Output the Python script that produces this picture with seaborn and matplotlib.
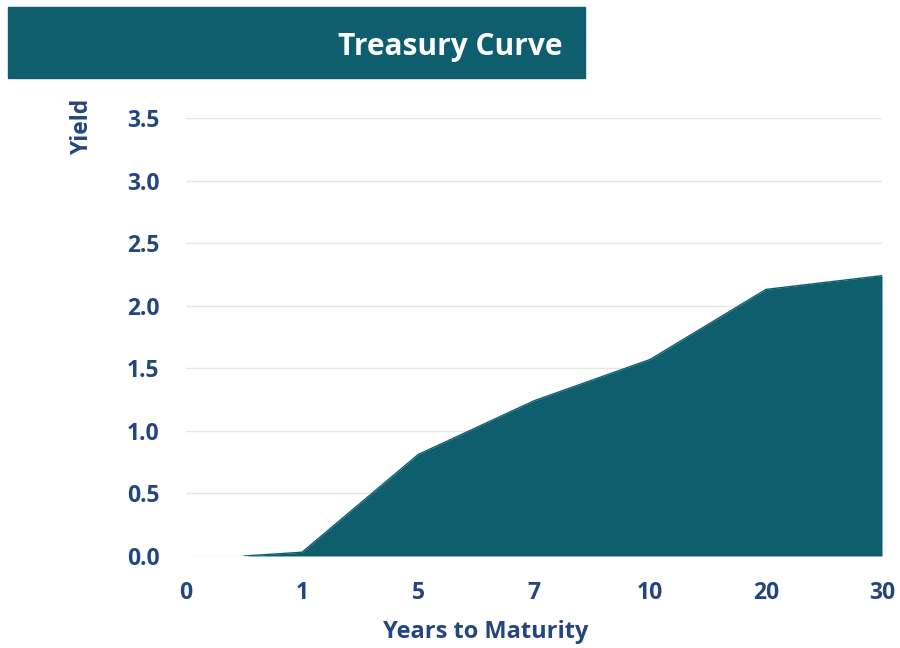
import numpy as np
import matplotlib.pyplot as plt
import seaborn as sns
from matplotlib.patches import Rectangle

# données de la courbe
maturities = ["0", "1", "5", "7", "10", "20", "30"]
positions = [0.5, 1, 2, 3, 4, 5, 6]          # position sur l'axe (catégoriel)
yields = [0.0, 0.03, 0.81, 1.24, 1.57, 2.13, 2.24]
yticks = [0.0, 0.5, 1.0, 1.5, 2.0, 2.5, 3.0, 3.5]

teal = "#0F5E6E"
navy = "#234683"

sns.set_theme(style="white")
plt.rcParams["font.family"] = ["Open Sans", "DejaVu Sans"]

fig = plt.figure(figsize=(9, 6.48), dpi=100)
ax = fig.add_axes([0.2067, 0.142, 0.7733, 0.676])

ax.fill_between(positions, yields, 0, color=teal, linewidth=0)
sns.lineplot(x=positions, y=yields, color=teal, linewidth=1, ax=ax)

ax.set_xlim(0, 6)
ax.set_ylim(0, 3.5)
ax.set_xticks(range(len(maturities)))
ax.set_xticklabels(maturities)
ax.set_yticks(yticks)
ax.set_yticklabels([f"{v:.1f}" for v in yticks])
ax.yaxis.grid(True, color="#E6E6E6", linewidth=1)
ax.set_axisbelow(True)
sns.despine(ax=ax, left=True, bottom=True)
ax.tick_params(axis="both", length=0, labelsize=16.5, labelcolor=navy)
ax.tick_params(axis="y", pad=19)
ax.tick_params(axis="x", pad=18)
for lab in ax.get_xticklabels() + ax.get_yticklabels():
    lab.set_fontweight("bold")

ax.set_xlabel("Years to Maturity", fontsize=17, fontweight="bold", color=navy)
ax.xaxis.set_label_coords(0.43, -0.145)
ax.set_ylabel("Yield", fontsize=16.5, fontweight="bold", color=navy)
ax.yaxis.label.set_verticalalignment("center")
ax.yaxis.set_label_coords(-0.15, 0.98)

# bandeau du titre
fig.patches.append(Rectangle((8 / 900, 1 - 78 / 648), 577 / 900, 71 / 648,
                             transform=fig.transFigure, color=teal, zorder=0))
fig.text(563 / 900, 1 - 47 / 648, "Treasury Curve", ha="right", va="center",
         fontsize=21.5, fontweight="bold", color="white")

fig.savefig("out.png", dpi=100)
